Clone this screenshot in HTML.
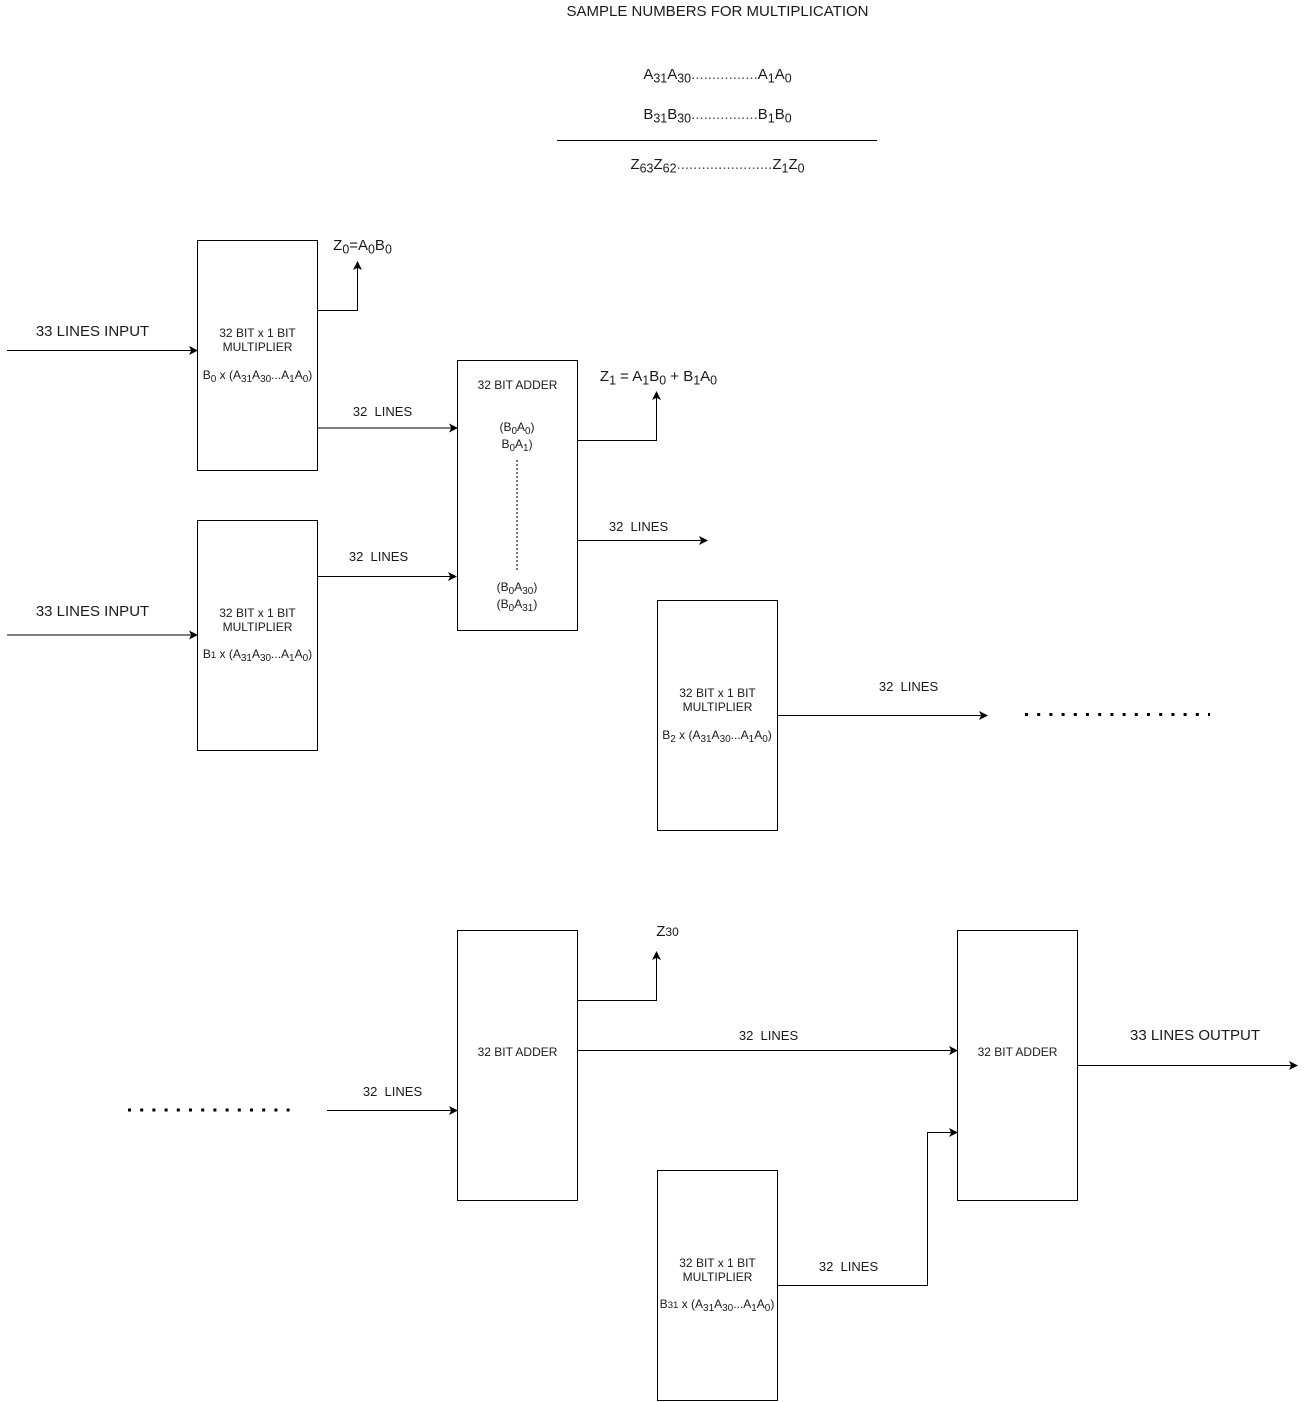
<!DOCTYPE html>
<html>
<head>
<meta charset="utf-8">
<style>
html,body{margin:0;padding:0;background:#fff}
#c{position:relative;width:1307px;height:1402px;overflow:hidden;background:#fff;font-family:"Liberation Sans",sans-serif;color:#1a1a1a}
svg{position:absolute;left:0;top:0}
.t{position:absolute;white-space:pre;transform:translate(-50%,-50%);font-size:12px;line-height:14px}
.m{font-size:15px;line-height:16px}
.l{font-size:13px;line-height:16px}
sub{font-size:.83em;vertical-align:-.3em;line-height:0}
small{font-size:.8em}
.d{color:#555}
</style>
</head>
<body>
<div id="c">
<svg width="1307" height="1402" viewBox="0 0 1307 1402">
<g fill="#fff" stroke="#000" stroke-width="1">
<rect x="197.5" y="240.5" width="120" height="230"/>
<rect x="197.5" y="520.5" width="120" height="230"/>
<rect x="457.5" y="360.5" width="120" height="270"/>
<rect x="657.5" y="600.5" width="120" height="230"/>
<rect x="457.5" y="930.5" width="120" height="270"/>
<rect x="957.5" y="930.5" width="120" height="270"/>
<rect x="657.5" y="1170.5" width="120" height="230"/>
</g>
<g fill="none" stroke="#000" stroke-width="1">
<path d="M557 140.5H877"/>
<path d="M7 350.5H192"/>
<path d="M7 635H192"/>
<path d="M317.5 310.5H357.5V267"/>
<path d="M317.5 428H452"/>
<path d="M317.5 576.5H451"/>
<path d="M577.5 440.5H656.5V397"/>
<path d="M577.5 540.5H702"/>
<path d="M777.5 715.5H982"/>
<path d="M327 1110.5H452"/>
<path d="M577.5 1000.5H656.5V957"/>
<path d="M577.5 1050.5H952"/>
<path d="M777.5 1285.5H927.5V1132.5H952"/>
<path d="M1077.5 1065.5H1292"/>
<path d="M517 460V570" stroke="#777" stroke-width="2" stroke-dasharray="2 2"/>
<path d="M1025 714.5H1210" stroke="#000" stroke-width="3" stroke-dasharray="3 9.2"/>
<path d="M128 1110H290" stroke="#000" stroke-width="3" stroke-dasharray="3 9.2"/>
</g>
<g fill="#000">
<path d="M198 350.5l-9-4.5 2.2 4.5-2.2 4.5z"/>
<path d="M198 635l-9-4.5 2.2 4.5-2.2 4.5z"/>
<path d="M357.5 261l-4.5 9 4.5-2.2 4.5 2.2z"/>
<path d="M458 428l-9-4.5 2.2 4.5-2.2 4.5z"/>
<path d="M457 576.5l-9-4.5 2.2 4.5-2.2 4.5z"/>
<path d="M656.5 391l-4.5 9 4.5-2.2 4.5 2.2z"/>
<path d="M708 540.5l-9-4.5 2.2 4.5-2.2 4.5z"/>
<path d="M988 715.5l-9-4.5 2.2 4.5-2.2 4.5z"/>
<path d="M458 1110.5l-9-4.5 2.2 4.5-2.2 4.5z"/>
<path d="M656.5 951l-4.5 9 4.5-2.2 4.5 2.2z"/>
<path d="M958 1050.5l-9-4.5 2.2 4.5-2.2 4.5z"/>
<path d="M958 1132.5l-9-4.5 2.2 4.5-2.2 4.5z"/>
<path d="M1298 1065.5l-9-4.5 2.2 4.5-2.2 4.5z"/>
</g>
</svg>

<div class="t m" style="left:717.5px;top:12px">SAMPLE NUMBERS FOR MULTIPLICATION</div>
<div class="t m" style="left:717.5px;top:75px">A<sub>31</sub>A<sub>30</sub><span class="d">................</span>A<sub>1</sub>A<sub>0</sub></div>
<div class="t m" style="left:717.5px;top:115px">B<sub>31</sub>B<sub>30</sub><span class="d">................</span>B<sub>1</sub>B<sub>0</sub></div>
<div class="t m" style="left:717.5px;top:165px">Z<sub>63</sub>Z<sub>62</sub><span class="d">.......................</span>Z<sub>1</sub>Z<sub>0</sub></div>

<div class="t m" style="left:362.5px;top:246px">Z<sub>0</sub>=A<sub>0</sub>B<sub>0</sub></div>
<div class="t m" style="left:92.5px;top:332px">33 LINES INPUT</div>
<div class="t m" style="left:92.5px;top:612px">33 LINES INPUT</div>

<div class="t" style="left:257.5px;top:333px">32 BIT x 1 BIT</div>
<div class="t" style="left:257.5px;top:347px">MULTIPLIER</div>
<div class="t" style="left:257.5px;top:375px">B<sub>0</sub> x (A<sub>31</sub>A<sub>30</sub>...A<sub>1</sub>A<sub>0</sub>)</div>

<div class="t" style="left:257.5px;top:613px">32 BIT x 1 BIT</div>
<div class="t" style="left:257.5px;top:627px">MULTIPLIER</div>
<div class="t" style="left:257.5px;top:655px">B<small>1</small> x (A<sub>31</sub>A<sub>30</sub>...A<sub>1</sub>A<sub>0</sub>)</div>

<div class="t" style="left:517.5px;top:385px">32 BIT ADDER</div>
<div class="t" style="left:517px;top:427px">(B<sub>0</sub>A<sub>0</sub>)</div>
<div class="t" style="left:517px;top:444px">B<sub>0</sub>A<sub>1</sub>)</div>
<div class="t" style="left:517px;top:587px">(B<sub>0</sub>A<sub>30</sub>)</div>
<div class="t" style="left:517px;top:604px">(B<sub>0</sub>A<sub>31</sub>)</div>

<div class="t m" style="left:658.5px;top:377px">Z<sub>1</sub> = A<sub>1</sub>B<sub>0</sub> + B<sub>1</sub>A<sub>0</sub></div>

<div class="t l" style="left:382.5px;top:412px">32  LINES</div>
<div class="t l" style="left:378.5px;top:557px">32  LINES</div>
<div class="t l" style="left:638.5px;top:527px">32  LINES</div>
<div class="t l" style="left:908.5px;top:687px">32  LINES</div>
<div class="t l" style="left:392.5px;top:1092px">32  LINES</div>
<div class="t l" style="left:768.5px;top:1036px">32  LINES</div>
<div class="t l" style="left:848.5px;top:1267px">32  LINES</div>

<div class="t" style="left:717.5px;top:693px">32 BIT x 1 BIT</div>
<div class="t" style="left:717.5px;top:707px">MULTIPLIER</div>
<div class="t" style="left:717px;top:735px">B<sub>2</sub> x (A<sub>31</sub>A<sub>30</sub>...A<sub>1</sub>A<sub>0</sub>)</div>

<div class="t m" style="left:667.5px;top:932px">Z<span style="font-size:12px">30</span></div>
<div class="t" style="left:517.5px;top:1052px">32 BIT ADDER</div>
<div class="t" style="left:1017.5px;top:1052px">32 BIT ADDER</div>
<div class="t m" style="left:1195px;top:1036px">33 LINES OUTPUT</div>

<div class="t" style="left:717.5px;top:1263px">32 BIT x 1 BIT</div>
<div class="t" style="left:717.5px;top:1277px">MULTIPLIER</div>
<div class="t" style="left:717px;top:1305px">B<small>31</small> x (A<sub>31</sub>A<sub>30</sub>...A<sub>1</sub>A<sub>0</sub>)</div>
</div>
</body>
</html>
